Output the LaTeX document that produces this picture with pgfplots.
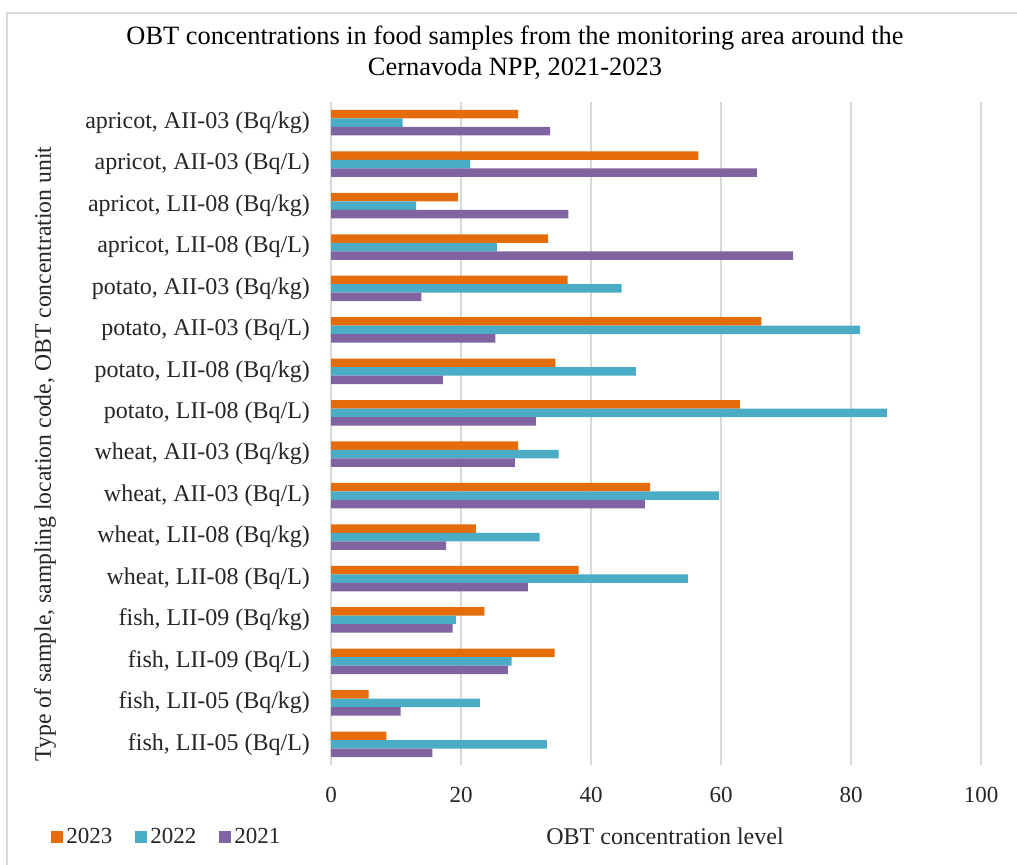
\documentclass[border=0pt]{standalone}
\usepackage{fontspec}
\setmainfont{Liberation Serif}
\usepackage{pgfplots}
\pgfplotsset{compat=1.18}
\definecolor{c23}{HTML}{E46C0A}
\definecolor{c22}{HTML}{4BACC6}
\definecolor{c21}{HTML}{8064A2}
\definecolor{gridc}{HTML}{D9D9D9}
\definecolor{txt}{HTML}{262626}
\begin{document}
\begin{tikzpicture}
\useasboundingbox (0,0) rectangle (508.5pt,432.5pt);
\fill[white] (0,0) rectangle (508.5pt,432.5pt);
\draw[gridc, line width=0.8pt] (3.5pt,-10pt) rectangle (520pt,426pt);
\begin{axis}[
  at={(165.5pt,50pt)}, anchor=south west,
  scale only axis, width=325pt, height=331.5pt,
  xbar, bar width=0.205,
  xmin=0, xmax=100, ymin=-0.5, ymax=15.5,
  xtick={0,20,40,60,80,100},
  ytick={0,...,15},
  yticklabels={{fish, LII-05 (Bq/L)},{fish, LII-05 (Bq/kg)},{fish, LII-09 (Bq/L)},{fish, LII-09 (Bq/kg)},{wheat, LII-08 (Bq/L)},{wheat, LII-08 (Bq/kg)},{wheat, AII-03 (Bq/L)},{wheat, AII-03 (Bq/kg)},{potato, LII-08 (Bq/L)},{potato, LII-08 (Bq/kg)},{potato, AII-03 (Bq/L)},{potato, AII-03 (Bq/kg)},{apricot, LII-08 (Bq/L)},{apricot, LII-08 (Bq/kg)},{apricot, AII-03 (Bq/L)},{apricot, AII-03 (Bq/kg)}},
  xmajorgrids, grid style={gridc, line width=1pt},
  axis line style={draw=none},
  major tick length=0pt,
  /pgf/number format/assume math mode=true,
  xticklabel style={font=\fontsize{11.5}{13}\selectfont, text=txt, yshift=-7.5pt},
  yticklabel style={font=\fontsize{12}{14}\selectfont, text=txt, xshift=-7pt},
  legend style={at={(axis description cs:-0.44,-0.1086)}, anchor=west, draw=none, fill=none,
    legend columns=3, font=\fontsize{11.5}{14}\selectfont, text=txt,
    /tikz/every even column/.append style={column sep=10pt},
    nodes={inner sep=1.5pt}},
  legend image code/.code={\fill[#1] (0pt,-3pt) rectangle (6pt,3pt);},
]
\addplot[fill=c23, draw=none, bar shift=0.205] coordinates {
(8.5,0) (5.8,1) (34.4,2) (23.6,3) (38.1,4) (22.3,5) (49.1,6) (28.8,7)
(62.9,8) (34.5,9) (66.2,10) (36.4,11) (33.4,12) (19.5,13) (56.5,14) (28.8,15)};
\addlegendentry{2023}
\addplot[fill=c22, draw=none, bar shift=0] coordinates {
(33.2,0) (22.9,1) (27.8,2) (19.2,3) (54.9,4) (32.1,5) (59.7,6) (35.0,7)
(85.5,8) (46.9,9) (81.4,10) (44.7,11) (25.5,12) (13.1,13) (21.4,14) (11.0,15)};
\addlegendentry{2022}
\addplot[fill=c21, draw=none, bar shift=-0.205] coordinates {
(15.6,0) (10.7,1) (27.2,2) (18.7,3) (30.3,4) (17.7,5) (48.3,6) (28.3,7)
(31.5,8) (17.2,9) (25.3,10) (13.9,11) (71.1,12) (36.5,13) (65.5,14) (33.7,15)};
\addlegendentry{2021}
\end{axis}
\node[align=center, font=\fontsize{13.2}{15.5}\selectfont, text=black] at (257.5pt,406.3pt)
  {OBT concentrations in food samples from the monitoring area around the\\Cernavoda NPP, 2021-2023};
\node[rotate=90, font=\fontsize{11.85}{14}\selectfont, text=txt] at (22.5pt,205.5pt)
  {Type of sample, sampling location code, OBT concentration unit};
\node[font=\fontsize{12}{14}\selectfont, text=txt] at (332.5pt,14.5pt) {OBT concentration level};
\end{tikzpicture}
\end{document}
